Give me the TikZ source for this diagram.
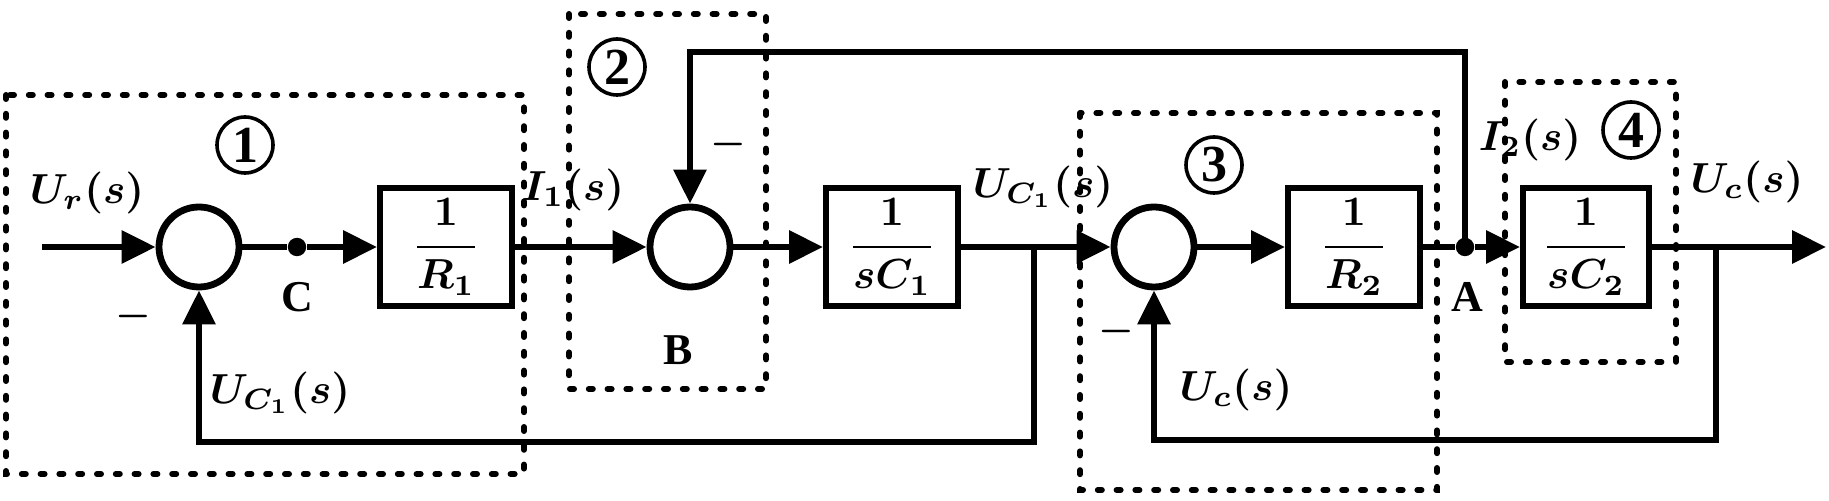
\documentclass[tikz,border=0pt]{standalone}
\usepackage{fix-cm}
\usepackage{amsmath}
\usepackage{fontspec}
\setmainfont{Liberation Serif}
\usetikzlibrary{arrows.meta}
\tikzset{
 sig/.style={line width=1.6pt,line join=miter},
 arr/.style={sig,-{Triangle[length=8.5pt,width=8pt]}},
 blk/.style={draw,line width=1.5pt,minimum width=33pt,minimum height=29.5pt,inner sep=0pt,font=\fontsize{10.5}{12}\selectfont\boldmath},
 sumc/.style={draw,circle,line width=1.7pt,minimum size=20pt,inner sep=0pt},
 dotbox/.style={draw,line width=1.5pt,line cap=round,dash pattern=on 1pt off 3.7pt},
 jdot/.style={circle,fill,minimum size=4.6pt,inner sep=0pt},
 lab/.style={inner sep=0pt,font=\fontsize{10.5}{12}\selectfont\boldmath},
 circnum/.style={draw,circle,line width=0.9pt,minimum size=14pt,inner sep=0pt,font=\bfseries\fontsize{13}{13}\selectfont},
 ptlab/.style={font=\bfseries\fontsize{11}{11}\selectfont,inner sep=0pt},
 minus/.style={inner sep=0pt,font=\fontsize{10}{10}\selectfont\boldmath},
}
\begin{document}
\begin{tikzpicture}[x=0.25pt,y=-0.25pt]
\useasboundingbox (0,0) rectangle (1829,501);
% dotted groups
\draw[dotbox] (6,95) rectangle (524,474);
\draw[dotbox] (569,14) rectangle (766,389);
\draw[dotbox] (1080,113) rectangle (1437,490);
\draw[dotbox] (1505,82) rectangle (1676,362);
% nodes
\coordinate (in) at (42,247);
\node[sumc] (sum1) at (199,247) {};
\node[jdot] (C) at (297,247) {};
\node[blk] (R1) at (446,247) {$\dfrac{1}{R_1}$};
\node[sumc] (sumB) at (690,247) {};
\node[blk] (sC1) at (892,247) {$\dfrac{1}{sC_1}$};
\node[sumc] (sum3) at (1154,247) {};
\node[blk] (R2) at (1354,247) {$\dfrac{1}{R_2}$};
\node[jdot] (A) at (1465,247) {};
\node[blk,minimum width=31.5pt] (sC2) at (1586,247) {$\dfrac{1}{sC_2}$};
\coordinate (out) at (1826,247);
\coordinate (b1) at (1034,247);
\coordinate (b1d) at (1034,442);
\coordinate (b2) at (1716,247);
\coordinate (b2d) at (1716,440);
\coordinate (tp) at (690,52);
% connectors
\draw[arr] (in) -- (sum1);
\draw[sig] (sum1) -- (C);
\draw[arr] (C) -- (R1);
\draw[arr] (R1) -- (sumB);
\draw[arr] (sumB) -- (sC1);
\draw[arr] (sC1) -- (sum3);
\draw[arr] (sum3) -- (R2);
\draw[sig] (R2) -- (A);
\draw[arr] (A) -- (sC2);
\draw[arr] (sC2) -- (out);
\draw[arr] (b1) -- (b1d) -| (sum1);
\draw[arr] (A.center) |- (tp) -- (sumB);
\draw[arr] (b2) -- (b2d) -| (sum3);
% labels
\node[lab] (lUr) at (87,193) {$U_r(s)$};
\node[lab] (lI1) at (573,190) {$I_1(s)$};
\node[lab] (lUC1a) at (1043,187) {$U_{C_1}(s)$};
\node[lab] (lUC1b) at (280,393) {$U_{C_1}(s)$};
\node[lab] (lUca) at (1236,390) {$U_c(s)$};
\node[lab] (lI2) at (1530,140) {$I_2(s)$};
\node[lab] (lUcb) at (1747,182) {$U_c(s)$};
\node[minus] (m1) at (133,317) {$-$};
\node[minus] (mB) at (728,145) {$-$};
\node[minus] (m3) at (1116,332) {$-$};
\node[ptlab] (lC) at (297,297) {C};
\node[ptlab] (lB) at (678,350) {B};
\node[ptlab] (lA) at (1467,297) {A};
\node[circnum] (n1) at (245,145) {1};
\node[circnum] (n2) at (617,67) {2};
\node[circnum] (n3) at (1214,165) {3};
\node[circnum] (n4) at (1631,130) {4};
\end{tikzpicture}
\end{document}
